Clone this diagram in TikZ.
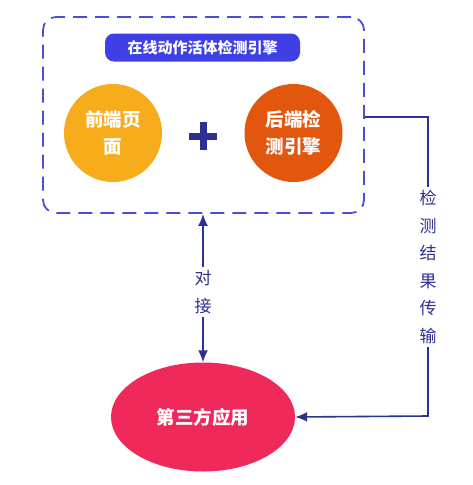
\documentclass[tikz,border=0pt]{standalone}
\usepackage{fontspec}
\newfontfamily\cjk{Noto Sans CJK SC}
\usetikzlibrary{arrows.meta,shapes.geometric}
\definecolor{boxblue}{HTML}{4B4FD6}
\definecolor{navy}{HTML}{2E3192}
\definecolor{pill}{HTML}{3F3FE6}
\definecolor{yel}{HTML}{F6AC1B}
\definecolor{ora}{HTML}{E2560E}
\definecolor{app}{HTML}{F0295B}
\tikzset{
  wtext/.style={text=white, font=\cjk\bfseries\fontsize{18.5}{27}\selectfont, align=center},
  circ/.style={circle, minimum size=98pt, inner sep=0pt, wtext},
  lbl/.style={fill=white, text=navy, font=\cjk\fontsize{17}{27.5}\selectfont, align=center, inner sep=3pt},
  conn/.style={draw=navy, line width=1.6pt},
  tip/.style={-{Latex[length=12pt,width=10pt]}}
}
\begin{document}
\begin{tikzpicture}[x=1pt,y=-1pt]
\useasboundingbox (0,0) rectangle (473,485);
\node[draw=boxblue, line width=1.8pt, dash pattern=on 14pt off 8pt, rounded corners=13pt,
      minimum width=321pt, minimum height=196pt, inner sep=0pt] (box) at (203.5,115) {};
\node[fill=pill, rounded corners=9pt, minimum width=195pt, minimum height=28pt, inner sep=0pt,
      text=white, font=\cjk\bfseries\fontsize{15}{18}\selectfont] (title) at (202.5,47.5) {在线动作活体检测引擎};
\node[circ, fill=yel] (front) at (113,133) {前端页\\面};
\node[circ, fill=ora] (back) at (293.5,133) {后端检\\测引擎};
\node[minimum size=27pt, inner sep=0pt] (plus) at (203,136) {};
\draw[navy, line width=7pt] (plus.west) -- (plus.east) (plus.north) -- (plus.south);
\node[ellipse, fill=app, minimum width=184pt, minimum height=109pt, inner sep=0pt, wtext] (app) at (203,417) {第三方应用};
\coordinate (c1) at (428,117);
\coordinate (c2) at (428,416);
\draw[conn, {Latex[length=12pt,width=10pt]}-{Latex[length=12pt,width=10pt]}] (box.south -| app.north) -- (app.north);
\draw[conn, tip] (box.east |- c1) -- (c1) -- (c2) -- (app.east);
\node[lbl] (dj) at (203,292) {对\\接};
\node[lbl] (res) at (428,267) {检\\测\\结\\果\\传\\输};
\end{tikzpicture}
\end{document}
